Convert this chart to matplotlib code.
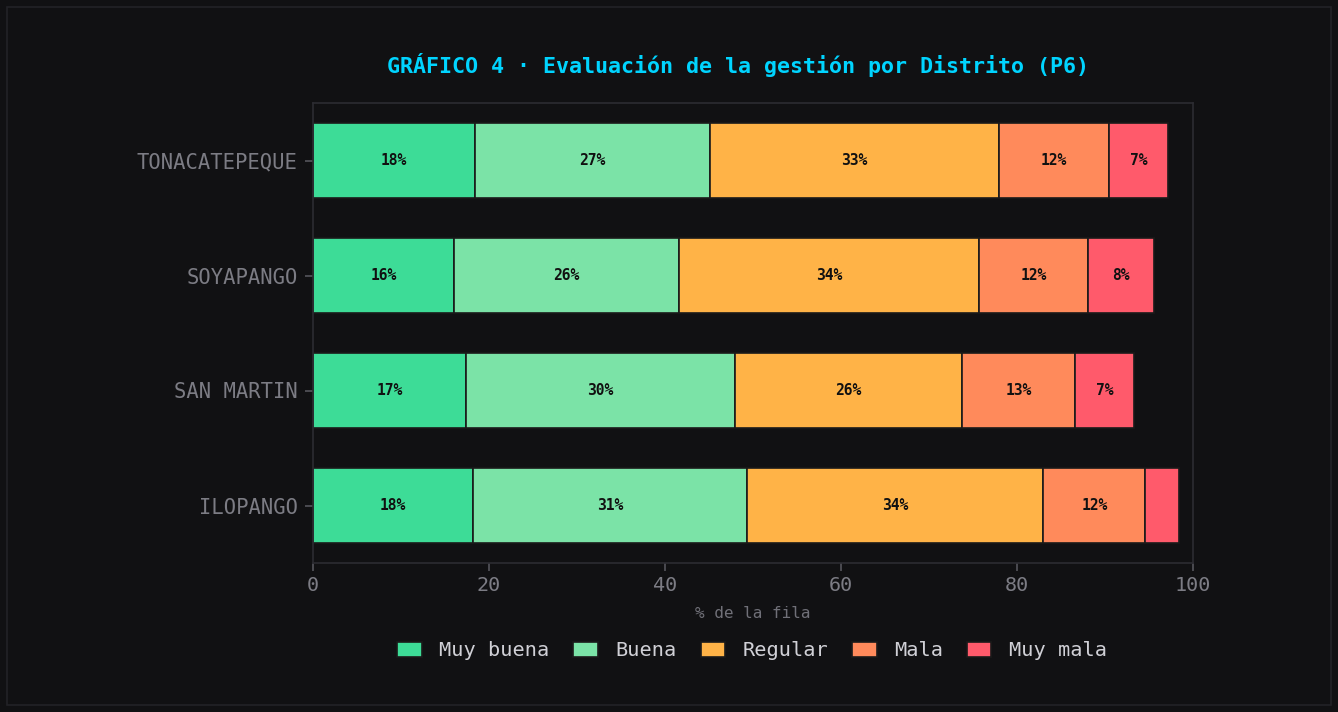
import numpy as np
import matplotlib.pyplot as plt
from matplotlib.patches import Rectangle

# datos (% de la fila), de abajo hacia arriba
distritos = ['ILOPANGO', 'SAN MARTIN', 'SOYAPANGO', 'TONACATEPEQUE']
categorias = ['Muy buena', 'Buena', 'Regular', 'Mala', 'Muy mala']
muy_buena = [18.2, 17.4, 16.0, 18.4]
buena     = [31.1, 30.5, 25.6, 26.7]
regular   = [33.7, 25.9, 34.1, 32.9]
mala      = [11.6, 12.8, 12.4, 12.4]
muy_mala  = [3.8, 6.7, 7.5, 6.8]
colores = ['#3ddc97', '#7be3a7', '#ffb347', '#ff8a5b', '#ff5a6b']

BG = '#111113'
MONO = 'DejaVu Sans Mono'
plt.rcParams['font.family'] = MONO

fig = plt.figure(figsize=(13.38, 7.12), dpi=100, facecolor=BG)
fig.patches.append(Rectangle((7/1338, 7/712), 1 - 14/1338, 1 - 14/712,
                             transform=fig.transFigure, fill=False,
                             edgecolor='#222227', linewidth=1.2))

ax = fig.add_axes([313/1338, 1 - 563/712, 880/1338, 460/712])
ax.set_facecolor(BG)

series = [muy_buena, buena, regular, mala, muy_mala]
y = np.arange(len(distritos))
left = np.zeros(len(distritos))
for vals, cat, col in zip(series, categorias, colores):
    vals = np.array(vals)
    ax.barh(y, vals, left=left, height=0.65, color=col, edgecolor='#1a1a1a',
            linewidth=1.2, label=cat)
    for yi, l, v in zip(y, left, vals):
        if v >= 5:
            ax.text(l + v / 2, yi, f'{v:.0f}%', ha='center', va='center',
                    fontsize=10.5, fontweight='bold', color='#111111', family=MONO)
    left += vals

ax.set_xlim(0, 100)
ax.set_ylim(-0.5, 3.5)
ax.set_yticks(y)
ax.set_yticklabels(distritos)
ax.set_xticks(np.arange(0, 101, 20))
ax.tick_params(colors='#55555c', labelcolor='#7c7c84', labelsize=14.5, length=6, width=1.2)
ax.tick_params(axis='y', labelsize=14.8, pad=5)
for s in ax.spines.values():
    s.set_color('#2c2c32')
    s.set_linewidth(1.2)
ax.set_xlabel('% de la fila', color='#707078', fontsize=11.5, labelpad=8)

fig.text(738/1338, 1 - 65/712, 'GRÁFICO 4 · Evaluación de la gestión por Distrito (P6)',
         ha='center', va='center', color='#00d4ff', fontsize=15.6, fontweight='bold')

leg = fig.legend(loc='center', bbox_to_anchor=(752/1338, 1 - 651/712), ncol=5,
                 frameon=False, fontsize=14.6, handlelength=1.2, handleheight=0.7,
                 handletextpad=0.85, columnspacing=1.2)
for t in leg.get_texts():
    t.set_color('#d0d0d6')

fig.savefig('out.png', dpi=100, facecolor=BG)
